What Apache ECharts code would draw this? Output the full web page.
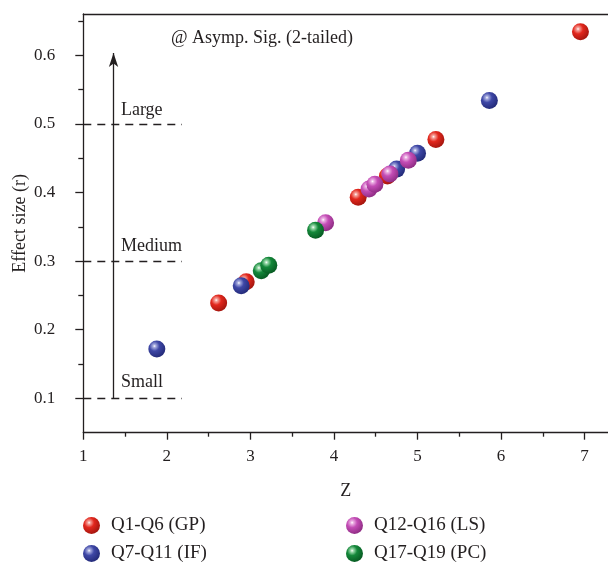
<!DOCTYPE html>
<html>
<head>
<meta charset="utf-8">
<script src="https://cdn.jsdelivr.net/npm/echarts@6/dist/echarts.min.js"></script>
<style>
html,body{margin:0;padding:0;background:#fff;}
#chart{width:608px;height:562px;}
</style>
</head>
<body>
<div id="chart"></div>
<script>
// ---- data ----
const seriesNames = ['Q1-Q6 (GP)', 'Q7-Q11 (IF)', 'Q12-Q16 (LS)', 'Q17-Q19 (PC)'];
const gpZ = [2.62, 2.95, 4.29, 4.64, 5.22, 6.95];
const gpR = [0.239, 0.270, 0.393, 0.424, 0.477, 0.634];
const ifZ = [1.88, 2.89, 4.75, 5.00, 5.86];
const ifR = [0.172, 0.264, 0.434, 0.457, 0.534];
const lsZ = [3.90, 4.42, 4.49, 4.67, 4.89];
const lsR = [0.356, 0.405, 0.412, 0.427, 0.447];
const pcZ = [3.13, 3.22, 3.78];
const pcR = [0.286, 0.294, 0.345];
const xTickLabels = [1, 2, 3, 4, 5, 6, 7];
const xMinorTicks = [1.5, 2.5, 3.5, 4.5, 5.5, 6.5];
const yTickLabels = [0.1, 0.2, 0.3, 0.4, 0.5, 0.6];
const yMinorTicks = [0.15, 0.25, 0.35, 0.45, 0.55, 0.65];
const thresholdNames = ['Small', 'Medium', 'Large'];
const thresholdValues = [0.1, 0.3, 0.5];
const noteText = '@ Asymp. Sig. (2-tailed)';

// ---- styling ----
const FONT = 'Liberation Serif';
const INK = '#231f20';
const baseColors = ['#e2271d', '#3e47a6', '#c44db6', '#14883a'];
const darkColors = ['#a3150e', '#232a78', '#8e2c83', '#075a22'];
const lightColors = ['#f6a39c', '#a9aee0', '#ecb2e4', '#9fdcae'];

function sphere(i) {
  return {
    type: 'radial', x: 0.36, y: 0.33, r: 0.7,
    colorStops: [
      { offset: 0, color: '#ffffff' },
      { offset: 0.12, color: lightColors[i] },
      { offset: 0.42, color: baseColors[i] },
      { offset: 1, color: darkColors[i] }
    ]
  };
}
function pairs(zs, rs) { return zs.map((z, k) => [z, rs[k]]); }

const allData = [pairs(gpZ, gpR), pairs(ifZ, ifR), pairs(lsZ, lsR), pairs(pcZ, pcR)];

const X_MIN = 1, X_MAX = 7.28, Y_MIN = 0.05, Y_MAX = 0.66;
const DASH_END = 2.18, ARROW_X = 1.362, ARROW_TOP = 0.603, LABEL_X = 1.45;
const labelOffsets = [0.023, 0.022, 0.02];

const scatterSeries = allData.map((d, i) => ({
  name: seriesNames[i],
  type: 'scatter',
  xAxisIndex: 0, yAxisIndex: 0,
  symbol: 'circle',
  symbolSize: 17,
  data: d,
  itemStyle: { color: sphere(i), opacity: 1 },
  emphasis: { disabled: true },
  z: 3 + i
}));

const annotSeries = {
  type: 'scatter',
  xAxisIndex: 0, yAxisIndex: 0,
  data: [],
  silent: true,
  markLine: {
    silent: true,
    animation: false,
    symbol: ['none', 'none'],
    label: { show: false },
    lineStyle: { color: INK, type: [8, 6], width: 1.3 },
    data: thresholdValues.map(v => [{ coord: [X_MIN, v] }, { coord: [DASH_END, v] }]).concat([
      [
        { coord: [ARROW_X, thresholdValues[0]], symbol: 'none', lineStyle: { type: 'solid', width: 1.3, color: INK } },
        { coord: [ARROW_X, ARROW_TOP], symbol: 'arrow', symbolSize: [7, 14], lineStyle: { type: 'solid', width: 1.3, color: INK } }
      ]
    ])
  },
  markPoint: {
    silent: true,
    animation: false,
    symbol: 'circle',
    symbolSize: 0,
    itemStyle: { color: 'transparent' },
    label: {
      show: true, position: 'right', distance: 0,
      fontFamily: FONT, fontSize: 18, color: INK
    },
    data: thresholdNames.map((n, k) => ({
      coord: [LABEL_X, thresholdValues[k] + labelOffsets[k]],
      label: { formatter: n }
    }))
  }
};

const axisText = { fontFamily: FONT, fontSize: 17, color: INK };

const legendPos = [[78, 511], [78, 539], [341, 511], [341, 539]];
const legends = seriesNames.map((n, i) => ({
  data: [n],
  orient: 'horizontal', left: legendPos[i][0], top: legendPos[i][1],
  itemWidth: 17, itemHeight: 17, icon: 'circle',
  textStyle: { fontFamily: FONT, fontSize: 19, color: INK, padding: [0, 0, 0, 6] },
  selectedMode: false
}));

const option = {
  animation: false,
  backgroundColor: '#ffffff',
  title: {
    text: noteText,
    left: 166, top: 24,
    textStyle: { fontFamily: FONT, fontSize: 18, fontWeight: 'normal', color: INK }
  },
  grid: { left: 83.3, right: 0, top: 14, bottom: 129.3, containLabel: false },
  legend: legends,
  xAxis: [
    {
      type: 'value', position: 'bottom', min: X_MIN, max: X_MAX,
      name: 'Z', nameLocation: 'middle', nameGap: 50,
      nameTextStyle: { fontFamily: FONT, fontSize: 18, color: INK },
      axisLine: { show: true, onZero: false, lineStyle: { color: INK, width: 1.3 } },
      axisTick: { show: true, length: 7, customValues: xTickLabels, lineStyle: { color: INK, width: 1.3 } },
      axisLabel: { show: true, margin: 15, customValues: xTickLabels, ...axisText },
      splitLine: { show: false }
    },
    {
      type: 'value', position: 'bottom', min: X_MIN, max: X_MAX,
      axisLine: { show: false, onZero: false },
      axisTick: { show: true, length: 4, customValues: xMinorTicks, lineStyle: { color: INK, width: 1.3 } },
      axisLabel: { show: false },
      splitLine: { show: false }
    },
    {
      type: 'value', position: 'top', min: X_MIN, max: X_MAX,
      axisLine: { show: true, onZero: false, lineStyle: { color: INK, width: 1.3 } },
      axisTick: { show: false }, axisLabel: { show: false }, splitLine: { show: false }
    }
  ],
  yAxis: [
    {
      type: 'value', position: 'left', min: Y_MIN, max: Y_MAX,
      name: 'Effect size (r)', nameLocation: 'middle', nameGap: 54, nameMoveOverlap: false,
      nameTextStyle: { fontFamily: FONT, fontSize: 18, color: INK },
      axisLine: { show: true, onZero: false, lineStyle: { color: INK, width: 1.3 } },
      axisTick: { show: true, length: 8, customValues: yTickLabels, lineStyle: { color: INK, width: 1.3 } },
      axisLabel: { show: true, margin: 28, customValues: yTickLabels, formatter: v => v.toFixed(1), ...axisText },
      splitLine: { show: false }
    },
    {
      type: 'value', position: 'left', min: Y_MIN, max: Y_MAX,
      axisLine: { show: false, onZero: false },
      axisTick: { show: true, length: 5, customValues: yMinorTicks, lineStyle: { color: INK, width: 1.3 } },
      axisLabel: { show: false },
      splitLine: { show: false }
    }
  ],
  series: scatterSeries.concat([annotSeries])
};

const chart = echarts.init(document.getElementById('chart'), null, { renderer: 'canvas' });
chart.setOption(option);
</script>
</body>
</html>
